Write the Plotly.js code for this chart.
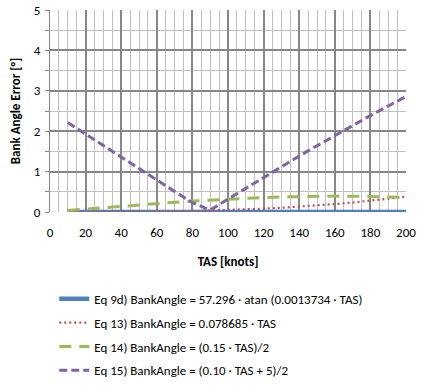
<!DOCTYPE html>
<html><head><meta charset="utf-8">
<script src="https://cdn.plot.ly/plotly-3.0.1.min.js"></script>
<style>html,body{margin:0;padding:0;background:#fff}#c{width:427px;height:385px}</style>
</head><body><div id="c"></div>
<script>
const tas = [10,20,30,40,50,60,70,80,90,100,110,120,130,140,150,160,170,180,190,200];
const eq9d = [0,0,0,0,0,0,0,0,0,0,0,0,0,0,0,0,0,0,0,0];
const eq13 = [0.0000,0.0003,0.0012,0.0030,0.0059,0.0103,0.0165,0.0247,0.0353,0.0484,0.0644,0.0835,0.1060,0.1321,0.1621,0.1961,0.2345,0.2774,0.3251,0.3777];
const eq14 = [0.0369,0.0734,0.1094,0.1444,0.1783,0.2108,0.2414,0.2701,0.2964,0.3201,0.3409,0.3587,0.3730,0.3838,0.3906,0.3934,0.3919,0.3858,0.3750,0.3592];
const eq15 = [2.2132,1.9266,1.6406,1.3556,1.0717,0.7892,0.5086,0.2300,0.0464,0.3201,0.5909,0.8587,1.1230,1.3838,1.6406,1.8934,2.1419,2.3858,2.6250,2.8592];
const names = ["Eq 9d) BankAngle = 57.296 · atan (0.0013734 · TAS)",
               "Eq 13) BankAngle = 0.078685 · TAS",
               "Eq 14) BankAngle = (0.15 · TAS)/2",
               "Eq 15) BankAngle = (0.10 · TAS + 5)/2"];

const traces = [
  {x: tas, y: eq9d, name: names[0], mode: 'lines', line: {color: '#4F81BD', width: 4.5}, legendgroup: 'a'},
  {x: tas, y: eq13, name: names[1], mode: 'lines', line: {color: '#C0504D', width: 2.2, dash: '2px,3px'}, legendgroup: 'b'},
  {x: tas, y: eq14, name: names[2], mode: 'lines', line: {color: '#9BBB59', width: 3, dash: '12px,8px'}, legendgroup: 'c'},
  {x: tas, y: eq15, name: names[3], mode: 'lines', line: {color: '#8064A2', width: 3, dash: '8px,4px'}, legendgroup: 'd'}
];
const fam = 'Carlito, Calibri, "Liberation Sans", Arial, sans-serif';
const layout = {
  width: 427, height: 385,
  margin: {l: 50, r: 21, t: 10, b: 173, autoexpand: false},
  paper_bgcolor: '#fff', plot_bgcolor: '#fff',
  font: {family: fam, size: 13, color: '#000'},
  showlegend: true,
  xaxis: {
    range: [0, 200], dtick: 20, tick0: 0,
    showgrid: true, gridcolor: '#878787', gridwidth: 2,
    minor: {dtick: 5, showgrid: true, gridcolor: '#c0c0c0', gridwidth: 1},
    showline: false, zeroline: false, ticks: '', ticklen: 0,
    ticklabelstandoff: 11,
    tickfont: {family: fam, size: 13},
    title: {text: '<b>TAS [knots]</b>', font: {family: fam, size: 13}, standoff: 17},
    automargin: false,
    fixedrange: true
  },
  yaxis: {
    range: [0, 5], dtick: 1, tick0: 0,
    showgrid: true, gridcolor: '#878787', gridwidth: 2,
    minor: {dtick: 0.5, showgrid: true, gridcolor: '#c0c0c0', gridwidth: 1, ticks: 'outside', ticklen: 4, tickcolor: '#878787'},
    showline: true, linecolor: '#878787', linewidth: 1,
    zeroline: false, ticks: 'outside', ticklen: 4, tickcolor: '#878787',
    ticklabelstandoff: 2,
    tickfont: {family: fam, size: 13},
    title: {text: '<b>Bank Angle Error [°]</b>', font: {family: fam, size: 13}, standoff: 10},
    automargin: false,
    fixedrange: true
  },
  legend: {
    x: 0.012, xanchor: 'left', y: -0.355, yanchor: 'top',
    font: {family: fam, size: 13, color: '#000'},
    traceorder: 'grouped', tracegroupgap: 4,
    itemwidth: 30, bgcolor: 'rgba(0,0,0,0)'
  }
};
Plotly.newPlot('c', traces, layout, {displayModeBar: false, staticPlot: true});
</script>
</body></html>
